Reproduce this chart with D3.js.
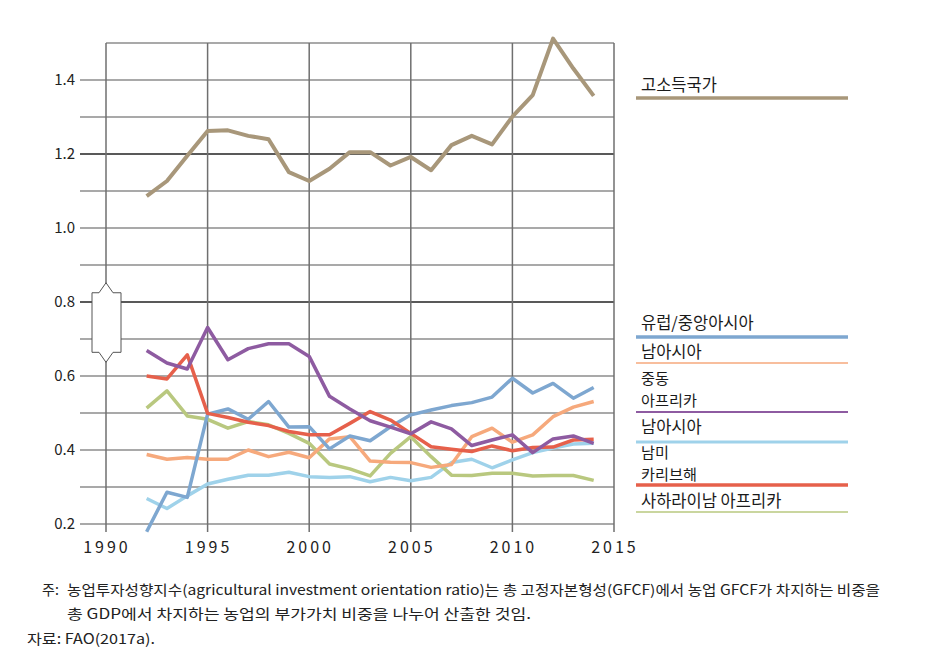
<!DOCTYPE html>
<html><head><meta charset="utf-8">
<script src="https://cdn.jsdelivr.net/npm/d3@7"></script>
<style>body{margin:0;background:#fff;} text{font-family:"Noto Sans CJK KR","Noto Sans",sans-serif;}</style>
</head><body>
<svg id="c" width="942" height="665"></svg>
<script>
const years = d3.range(1992, 2015);
const highIncome = [1.086,1.127,1.195,1.262,1.264,1.249,1.240,1.151,1.127,1.160,1.205,1.205,1.169,1.192,1.156,1.224,1.249,1.226,1.301,1.359,1.512,1.431,1.357];
const europeCA = [0.179,0.286,0.272,0.497,0.511,0.483,0.531,0.462,0.463,0.403,0.438,0.425,0.463,0.495,0.508,0.520,0.528,0.543,0.594,0.554,0.580,0.540,0.569];
const southAsia = [0.388,0.375,0.380,0.375,0.375,0.400,0.382,0.394,0.379,0.430,0.436,0.370,0.367,0.366,0.353,0.361,0.436,0.459,0.421,0.441,0.490,0.516,0.531];
const menaf = [0.669,0.635,0.619,0.731,0.644,0.674,0.687,0.687,0.653,0.545,0.511,0.479,0.462,0.444,0.476,0.457,0.412,0.427,0.441,0.393,0.430,0.438,0.418];
const southAsia2 = [0.269,0.242,0.276,0.308,0.321,0.332,0.332,0.340,0.328,0.326,0.328,0.314,0.326,0.317,0.326,0.366,0.375,0.352,0.373,0.393,0.405,0.416,0.418];
const latam = [0.600,0.592,0.657,0.499,0.488,0.475,0.466,0.450,0.441,0.441,0.472,0.504,0.481,0.445,0.409,0.402,0.396,0.411,0.398,0.407,0.408,0.427,0.429];
const ssa = [0.513,0.560,0.492,0.483,0.459,0.477,0.468,0.445,0.418,0.362,0.349,0.330,0.391,0.436,0.382,0.332,0.331,0.337,0.337,0.330,0.331,0.331,0.318];

const yTickValues = [0.2,0.4,0.6,0.8,1.0,1.2,1.4];
const xTickValues = [1990,1995,2000,2005,2010,2015];
const legendLabels = [["고소득국가"],["유럽/중앙아시아"],["남아시아"],["중동","아프리카"],["남아시아"],["남미","카리브해"],["사하라이남 아프리카"]];
const notes = ["농업투자성향지수(agricultural investment orientation ratio)는 총 고정자본형성(GFCF)에서 농업 GFCF가 차지하는 비중을",
               "총 GDP에서 차지하는 농업의 부가가치 비중을 나누어 산출한 것임."];
const source = "자료: FAO(2017a).";

const series = [
  {vals: southAsia2, color:"#9fd2ea", w:3.5},
  {vals: ssa, color:"#b9c87f", w:3.5},
  {vals: southAsia, color:"#f6a97c", w:3.5},
  {vals: europeCA, color:"#7ea7d0", w:3.5},
  {vals: latam, color:"#e6604b", w:3.5},
  {vals: menaf, color:"#8e5ba1", w:3.5},
  {vals: highIncome, color:"#a8977a", w:4}
];

const svg = d3.select("#c");
const x = d3.scaleLinear().domain([1990,2015]).range([106,614]);
const y = d3.scaleLinear().domain([0.2,1.5]).range([524,43]);

// horizontal grid
const gridVals = d3.range(2,16).map(d=>d/10);
svg.append("g").selectAll("line").data(gridVals).join("line")
  .attr("x1", d=> d>=1.45 ? x(1990) : 80).attr("x2", x(2015))
  .attr("y1", d=>y(d)).attr("y2", d=>y(d))
  .attr("stroke", d=> (Math.abs(d-1.2)<1e-6||Math.abs(d-0.8)<1e-6) ? "#222" : "#8c8c8c")
  .attr("stroke-width", 1.3);
// vertical grid
svg.append("g").selectAll("line").data(xTickValues).join("line")
  .attr("x1", d=>x(d)).attr("x2", d=>x(d))
  .attr("y1", y(1.5)).attr("y2", y(0.2)+8)
  .attr("stroke", "#6f6f6f").attr("stroke-width", 1.5);

// axis break symbol
const bx = x(1990);
svg.append("path")
  .attr("d", `M${bx-14},${y(0.825)} L${bx-7},${y(0.825)} L${bx},${y(0.852)} L${bx+7},${y(0.825)} L${bx+15},${y(0.825)} L${bx+15},${y(0.664)} L${bx+7},${y(0.664)} L${bx},${y(0.637)} L${bx-7},${y(0.664)} L${bx-14},${y(0.664)} Z`)
  .attr("fill","#fff").attr("stroke","#555").attr("stroke-width",1);

// y labels
svg.append("g").selectAll("text").data(yTickValues).join("text")
  .attr("x", 75).attr("y", d=>y(d)+5).attr("text-anchor","end")
  .attr("font-size", 15).attr("fill","#222").text(d=>d.toFixed(1));
// x labels
svg.append("g").selectAll("text").data(xTickValues).join("text")
  .attr("x", d=>x(d)+1).attr("y", 553).attr("text-anchor","middle")
  .attr("font-size", 16).attr("letter-spacing", 3).attr("fill","#222").text(d=>d);

// lines
const line = d3.line().x((d,i)=>x(years[i])).y(d=>y(d));
svg.append("g").selectAll("path").data(series).join("path")
  .attr("d", d=>line(d.vals)).attr("fill","none")
  .attr("stroke", d=>d.color).attr("stroke-width", d=>d.w)
  .attr("stroke-linejoin","round");

// legend
const legColors = ["#a8977a","#7ea7d0","#f6a97c","#8e5ba1","#9fd2ea","#e6604b","#b9c87f"];
const legLineY = [98, 337, 363, 412, 442, 485, 512];
const legWidths = [3.5, 3.5, 1.5, 2, 3, 3.5, 1.5];
const legTextY = [91, 329, 358, 384, 433, 458, 507];
const lg = svg.append("g");
legendLabels.forEach((lab,i)=>{
  lg.append("line").attr("x1",636).attr("x2",848).attr("y1",legLineY[i]).attr("y2",legLineY[i])
    .attr("stroke",legColors[i]).attr("stroke-width",legWidths[i]);
  const fs = lab.length > 1 ? 15.2 : 16.5;
  lab.forEach((s,j)=>{
    lg.append("text").attr("x",641).attr("y",legTextY[i] + j*22)
      .attr("font-size",fs).attr("fill","#1a1a1a").text(s);
  });
});

// notes
svg.append("text").attr("x",42).attr("y",595).attr("font-size",14).attr("fill","#222").text("주:");
svg.append("text").attr("x",67).attr("y",595).attr("font-size",14).attr("fill","#222")
  .attr("textLength",813).attr("lengthAdjust","spacingAndGlyphs").text(notes[0]);
svg.append("text").attr("x",67).attr("y",619).attr("font-size",14).attr("fill","#222")
  .attr("textLength",464).attr("lengthAdjust","spacingAndGlyphs").text(notes[1]);
svg.append("text").attr("x",27).attr("y",644).attr("font-size",14).attr("fill","#222")
  .attr("textLength",128).attr("lengthAdjust","spacingAndGlyphs").text(source);
</script>
</body></html>
